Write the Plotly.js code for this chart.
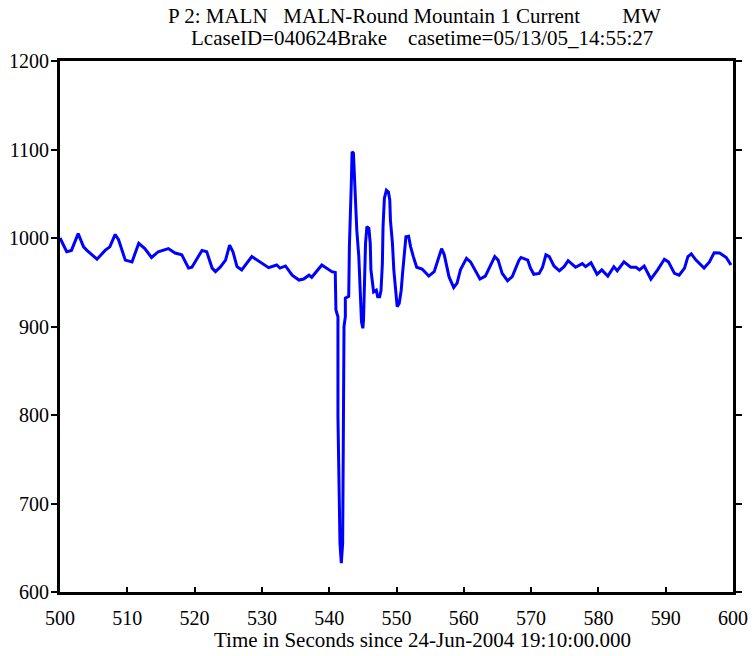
<!DOCTYPE html>
<html>
<head>
<meta charset="utf-8">
<script src="https://cdn.plot.ly/plotly-3.0.1.min.js"></script>
<style>body{margin:0;padding:0;background:#fff;} #chart{width:756px;height:656px;}</style>
</head>
<body>
<div id="chart"></div>
<script>
const timeSec = [
 500.0,501.0,501.7,502.7,503.5,504.0,505.5,506.7,507.4,508.2,508.7,509.7,510.7,511.7,512.6,513.6,514.6,516.1,517.1,518.1,519.1,519.6,521.1,521.8,522.6,523.1,523.8,524.6,
 525.2,525.7,526.3,527.0,528.5,529.8,531.0,532.2,532.7,533.5,534.5,535.5,536.2,537.0,537.4,538.9,539.7,540.4,540.9,
 541.0,541.3,541.3,541.6,541.8,542.0,542.1,542.2,542.2,542.4,542.4,542.9,543.0,543.3,543.4,543.6,543.7,544.0,544.1,544.4,544.6,544.8,545.0,545.1,545.4,545.6,545.9,546.1,546.2,546.5,546.6,547.0,547.2,547.5,547.7,547.9,548.0,548.2,548.5,548.8,549.0,549.1,549.4,549.6,549.9,550.1,550.4,550.7,550.9,551.1,551.4,551.8,552.1,552.5,553.0,553.8,
 554.8,555.6,556.1,556.7,557.1,557.8,558.5,559.0,559.5,560.4,561.0,561.8,562.4,563.2,564.0,564.6,565.1,565.7,566.5,567.2,568.2,568.5,569.5,569.9,570.4,571.2,571.7,572.2,572.7,573.4,574.2,574.9,575.5,
 576.6,577.6,578.1,578.9,579.8,580.5,581.4,582.3,582.8,583.8,584.8,585.6,586.1,586.8,587.8,588.8,589.8,590.4,591.3,592.0,592.8,593.3,593.8,594.5,595.7,596.5,597.2,598.0,599.0,599.7
];
const currentMW = [
 1000,984.5,986,1005,990,986,976,986,990,1004,998,975,973,994,988,978,984.5,988,983,981,966,967,986,984.5,966,962,967,975,
 992,984.5,967.6,964,979,973,966.5,969.5,966,968.4,958,952.5,953.6,958,955.6,969.5,966,962,961,
 918.6,911,798,655,632.5,655,775,798,900,911,932,934,990,1065.5,1097.5,1096,1077,1039,1009,979,941,905.4,898,907.3,994,1012.8,1011,994,964,945,939,941,933.7,933.7,941,971,1012.8,1045,1054,1052,1043,1020,994,964,937.5,922.4,926,941,960,975,1001.5,1002,990,979,967,965,
 957,962,973,988,981,956.3,944,949,964,977,973,962,953.6,957,969.5,979,975,960,951.7,956.3,975,978,975,966,959,960,967,981,979,968.4,963,967.6,974.4,
 967,971,967.6,972,959,964,957,967.6,963,973,967,967,964,968.4,953.6,964,976,973,960,958,966,979,982,975,966,973,983.4,983,978,969.5
];
const titleLine1 = "P 2: MALN\u00A0\u00A0\u00A0MALN-Round Mountain 1 Current\u00A0\u00A0\u00A0\u00A0\u00A0\u00A0\u00A0\u00A0MW";
const titleLine2 = "LcaseID=040624Brake\u00A0\u00A0\u00A0\u00A0casetime=05/13/05_14:55:27";
const xTitle = "Time in Seconds since 24-Jun-2004 19:10:00.000";

const font = {family: "Liberation Serif, Times New Roman, serif", color: "#000"};
const f = s => Object.assign({size: s}, font);
const trace = {
  x: timeSec, y: currentMW, type: "scatter", mode: "lines",
  line: {color: "#0000ff", width: 3}, hoverinfo: "skip"
};
const plotW = 673;
const layout = {
  width: 756, height: 656,
  margin: {l: 60, r: 23, t: 61, b: 64},
  paper_bgcolor: "#fff", plot_bgcolor: "#fff",
  font: f(20),
  showlegend: false,
  xaxis: {
    range: [500, 600], dtick: 10, tick0: 500, showgrid: false, zeroline: false,
    showline: true, linecolor: "#000", linewidth: 3, mirror: true,
    ticks: "inside", ticklen: 5, tickwidth: 2, tickcolor: "#000",
    tickfont: f(20), ticklabelstandoff: 6
  },
  yaxis: {
    range: [600, 1200], dtick: 100, tick0: 600, showgrid: false, zeroline: false,
    showline: true, linecolor: "#000", linewidth: 3, mirror: "ticks",
    ticks: "outside", ticklen: 6, tickwidth: 2, tickcolor: "#000",
    tickfont: f(20), ticklabelstandoff: -2
  },
  annotations: [
    {text: titleLine1, xref: "paper", yref: "paper", x: (414-60)/plotW, y: 1, yshift: 45, xanchor: "center", yanchor: "middle", showarrow: false, font: f(21)},
    {text: titleLine2, xref: "paper", yref: "paper", x: (422-60)/plotW, y: 1, yshift: 23, xanchor: "center", yanchor: "middle", showarrow: false, font: f(21)},
    {text: xTitle, xref: "paper", yref: "paper", x: (422-60)/plotW, y: 0, yshift: -48, xanchor: "center", yanchor: "middle", showarrow: false, font: f(21)}
  ]
};
Plotly.newPlot("chart", [trace], layout, {displayModeBar: false, staticPlot: true});
</script>
</body>
</html>
